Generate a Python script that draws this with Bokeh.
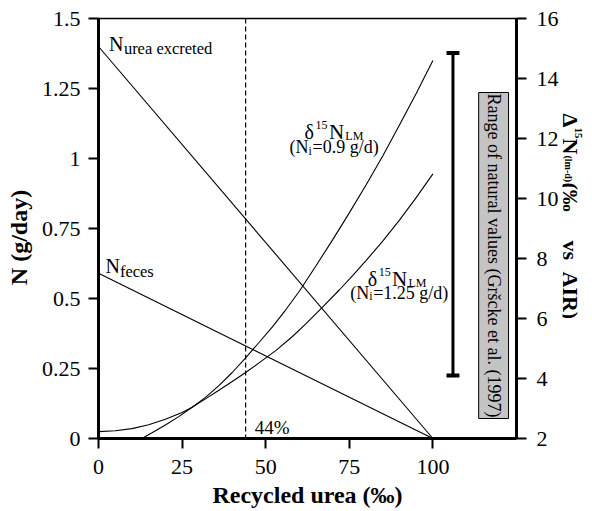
from math import pi
from bokeh.plotting import figure
from bokeh.layouts import row, column
from bokeh.models import (Range1d, LinearAxis, FixedTicker, Span, Label,
                          CustomJSTickFormatter)
from bokeh.embed import file_html
from bokeh.resources import INLINE

# ---------------- data ----------------
x_lines = [0, 100]
n_urea_excreted = [1.40, 0.0]
n_feces = [0.59, 0.0]

x_ni09 = [13, 16, 20, 24, 28, 32, 36, 40, 44, 48, 52, 56, 60, 65, 70, 75, 80, 85, 90, 95, 100]
d15n_ni09 = [2.0, 2.19, 2.45, 2.73, 3.04, 3.37, 3.76, 4.2, 4.69, 5.2, 5.72, 6.29, 6.9,
             7.75, 8.62, 9.52, 10.45, 11.42, 12.45, 13.5, 14.6]

x_ni125 = [0, 5, 10, 15, 20, 25, 28, 32, 36, 40, 44, 48, 53, 58, 62, 67, 72, 76, 80, 85,
           90, 95, 100]
d15n_ni125 = [2.23, 2.26, 2.33, 2.46, 2.64, 2.87, 3.04, 3.32, 3.61, 3.9, 4.2, 4.52, 4.93,
              5.4, 5.82, 6.38, 6.95, 7.43, 7.93, 8.58, 9.28, 10.03, 10.82]

recycled_mark = 44
natural_range_x = 106
natural_range = [4.1, 14.85]

x_ticks = [0, 25, 50, 75, 100]
left_ticks = [0, 0.25, 0.5, 0.75, 1, 1.25, 1.5]
right_ticks = [2, 4, 6, 8, 10, 12, 14, 16]

FONT = "Liberation Serif"

# ---------------- geometry (page px) ----------------
PAGE_W, PAGE_H = 592, 511
LEFT_STRIP, RIGHT_STRIP, BOTTOM_STRIP = 38, 30, 31
L, T, W, H = 96, 18, 420, 420          # plot frame on the page
XMAX, YMAX = 125.0, 1.5
R_MIN, R_MAX = 2.0, 16.0
MAIN_W = PAGE_W - LEFT_STRIP - RIGHT_STRIP
MAIN_H = PAGE_H - BOTTOM_STRIP


def px2x(px):
    return (px - L) / W * XMAX


def py2y(py):
    return (T + H - py) / H * YMAX


def py2r(py):
    return R_MIN + (T + H - py) / H * (R_MAX - R_MIN)


p = figure(width=MAIN_W, height=MAIN_H, x_range=Range1d(0, XMAX), y_range=Range1d(0, YMAX),
           output_backend="svg", toolbar_location=None,
           min_border_left=L - LEFT_STRIP, min_border_right=MAIN_W - (L - LEFT_STRIP) - W,
           min_border_top=T, min_border_bottom=MAIN_H - T - H)
p.extra_y_ranges = {"d15n": Range1d(R_MIN, R_MAX)}
p.xgrid.grid_line_color = None
p.ygrid.grid_line_color = None
p.outline_line_color = "black"
p.outline_line_width = 1.5
p.background_fill_color = "white"
p.border_fill_color = "white"

right_axis = LinearAxis(y_range_name="d15n")
p.add_layout(right_axis, "right")

p.xaxis.ticker = FixedTicker(ticks=x_ticks)
p.yaxis[0].ticker = FixedTicker(ticks=left_ticks)
right_axis.ticker = FixedTicker(ticks=right_ticks)
p.yaxis[0].formatter = CustomJSTickFormatter(code="return String(tick);")

for ax in [p.xaxis[0], p.yaxis[0], right_axis]:
    ax.axis_line_width = 3
    ax.axis_line_color = "black"
    ax.major_tick_line_width = 2
    ax.major_tick_out = 10
    ax.major_tick_in = 0
    ax.minor_tick_out = 0
    ax.minor_tick_in = 0
    ax.major_label_text_font = FONT
    ax.major_label_text_font_size = "22px"
    ax.major_label_text_color = "black"
p.yaxis[0].major_label_standoff = 8
right_axis.major_label_standoff = 10
p.xaxis[0].major_label_standoff = 11

# ---------------- marks ----------------
p.line(x_lines, n_urea_excreted, line_color="black", line_width=1.1)
p.line(x_lines, n_feces, line_color="black", line_width=1.1)
p.line(x_ni09, d15n_ni09, line_color="black", line_width=1.1, y_range_name="d15n")
p.line(x_ni125, d15n_ni125, line_color="black", line_width=1.1, y_range_name="d15n")

p.add_layout(Span(location=recycled_mark, dimension="height", line_color="black",
                  line_width=1.2, line_dash="5 3"))

cap = 6.5 / W * XMAX
p.segment(x0=[natural_range_x], y0=[natural_range[0]], x1=[natural_range_x],
          y1=[natural_range[1]], line_color="black", line_width=3, y_range_name="d15n")
p.segment(x0=[natural_range_x - cap] * 2, y0=natural_range,
          x1=[natural_range_x + cap] * 2, y1=natural_range,
          line_color="black", line_width=4, y_range_name="d15n")

p.quad(left=[px2x(478)], right=[px2x(508)], bottom=[py2r(418)], top=[py2r(92)],
       fill_color="#c4c4c4", line_color="black", line_width=1, y_range_name="d15n")


def mk_label(x, y, text, size, bold=False, angle=0.0, align="left", baseline="alphabetic"):
    return Label(x=x, y=y, text=text, text_font=FONT, text_font_size=f"{size}px",
                 text_font_style="bold" if bold else "normal",
                 angle=angle, text_align=align, text_baseline=baseline,
                 text_color="black")


def lab(text, px, py, size, **kw):
    p.add_layout(mk_label(px2x(px), py2y(py), text, size, **kw))


# curve labels
lab("N", 106.5, 43, 20)
lab("urea excreted", 121.5, 48, 16.5)
lab("N", 103, 265, 20)
lab("feces", 117.5, 271, 16.5)

lab("\u03b4", 303, 131.5, 20)
lab("15", 314, 124, 12)
lab("N", 327.5, 131.5, 21)
lab("LM", 344, 135.5, 12)
lab("(N", 288, 146.5, 18)
lab("i", 307, 150, 12)
lab("=0.9 g/d)", 311, 146.5, 18)

lab("\u03b4", 366.5, 278.5, 20)
lab("15", 377.5, 271, 12)
lab("N", 391, 278.5, 21)
lab("LM", 407.5, 282.5, 12)
lab("(N", 349, 292, 18)
lab("i", 368, 295.5, 12)
lab("=1.25 g/d)", 372, 292, 18)

lab("44%", 253, 427, 19)

lab("Range of natural values (Gr\u0161cke et al. (1997)", 493, 255, 18,
    angle=-pi / 2, align="center", baseline="middle")


# ---------------- title strips (ranges in page px coordinates) ----------------
def strip(width, height, x0, x1, y_top, y_bottom):
    f = figure(width=width, height=height, x_range=Range1d(x0, x1),
               y_range=Range1d(y_bottom, y_top), output_backend="svg",
               toolbar_location=None, x_axis_location=None, y_axis_location=None,
               min_border=0, min_border_left=0, min_border_right=0,
               min_border_top=0, min_border_bottom=0)
    f.outline_line_color = None
    f.grid.grid_line_color = None
    f.background_fill_color = "white"
    f.border_fill_color = "white"
    return f


# side strips: their frames are aligned with the main plot frame (T..T+H)
q_left = strip(LEFT_STRIP, MAIN_H, 0, LEFT_STRIP, T, T + H)
q_left.add_layout(mk_label(18, 237, "N (g/day)", 24, bold=True, angle=pi / 2,
                           align="center", baseline="middle"))

q_right = strip(RIGHT_STRIP, MAIN_H, PAGE_W - RIGHT_STRIP, PAGE_W, T, T + H)
for txt, py, bx, size in [("\u0394", 113, 570, 22), ("15", 127, 578, 11),
                          ("N", 138, 570, 22), ("(lm-d)", 155, 568, 10),
                          ("(\u2030", 182, 570, 22), ("vs", 240, 570, 22),
                          ("AIR)", 271, 570, 22)]:
    q_right.add_layout(mk_label(bx, py, txt, size, bold=True, angle=-pi / 2))

q_bottom = strip(PAGE_W, BOTTOM_STRIP, 0, PAGE_W, MAIN_H, PAGE_H)
q_bottom.add_layout(mk_label(307, 494, "Recycled urea (\u2030)", 24, bold=True,
                             align="center", baseline="middle"))

layout = column(row(q_left, p, q_right), q_bottom)
open("out.html", "w").write(file_html(layout, INLINE))
